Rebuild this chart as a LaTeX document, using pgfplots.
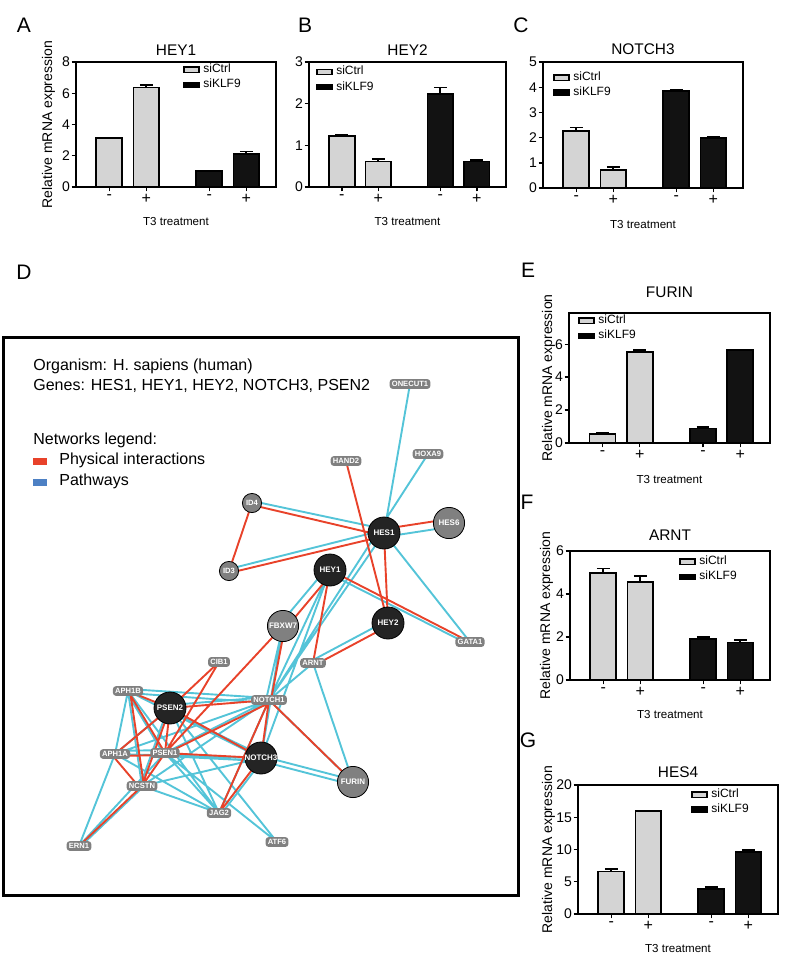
\documentclass[border=0pt]{standalone}
\usepackage{pgfplots}
\pgfplotsset{compat=1.18}
\usepackage{fontspec}
\setmainfont{Liberation Sans}
\definecolor{ctrlgray}{RGB}{212,212,212}
\definecolor{nodegray}{RGB}{128,128,128}
\definecolor{nodeblack}{RGB}{36,36,36}
\definecolor{edgered}{RGB}{232,66,42}
\definecolor{edgecyan}{RGB}{84,196,216}
\definecolor{legblue}{RGB}{77,128,196}
\pgfplotsset{
  barax/.style={
    scale only axis, anchor=north west,
    xmin=-0.9, xmax=4.5, ymin=0,
    xtick={0,1,2.7,3.7},
    xticklabels={\mbox{-},\mbox{+},\mbox{-},\mbox{+}},
    ybar, bar width=0.7, bar shift=0pt,
    tick align=outside, tick pos=left, major tick length=2.2pt,
    every tick/.style={black, line width=0.7pt},
    axis line style={line width=0.8pt},
    tick label style={font=\fontsize{7}{8}\selectfont},
    yticklabel style={inner sep=0.6pt},
    xticklabel style={inner sep=1.2pt, font=\fontsize{8}{9}\selectfont},
    /pgf/number format/assume math mode=true,
    every axis title shift=0pt,
    xlabel={T3 treatment},
    xlabel style={font=\fontsize{5.8}{7}\selectfont, anchor=center},
    ylabel style={font=\fontsize{7}{8}\selectfont, anchor=center},
    title style={font=\fontsize{7.7}{9}\selectfont, anchor=base, inner sep=0pt},
    legend style={draw=none, fill=none, font=\fontsize{6}{7}\selectfont, anchor=north west, inner sep=0pt, row sep=0.3pt, column sep=1.2pt, nodes={inner sep=0.7pt}},
    legend cell align=left,
    error bars/y dir=plus, error bars/y explicit,
    error bars/error bar style={line width=0.9pt, black},
    error bars/error mark options={rotate=90, mark size=3.2pt, line width=0.9pt, black},
  },
  ctrl/.style={fill=ctrlgray, draw=black, line width=0.9pt,
    legend image code/.code={\draw[fill=ctrlgray, draw=black, line width=0.6pt] (0pt,-1.3pt) rectangle (7.5pt,1.3pt);}},
  klf/.style={fill=black!93, draw=black, line width=0.9pt,
    legend image code/.code={\draw[fill=black, draw=black, line width=0.6pt] (0pt,-1.3pt) rectangle (7.5pt,1.3pt);}},
}
\begin{document}
\begin{tikzpicture}
\path[use as bounding box] (0,0) rectangle (392.5pt,-479pt);
% Panel letters
\node[font=\fontsize{10.5}{12}\selectfont] at (12pt,-12.5pt) {A};
\node[font=\fontsize{10.5}{12}\selectfont] at (152.5pt,-12.5pt) {B};
\node[font=\fontsize{10.5}{12}\selectfont] at (260.5pt,-12.5pt) {C};
\node[font=\fontsize{10.5}{12}\selectfont] at (12pt,-136pt) {D};
\node[font=\fontsize{10.5}{12}\selectfont] at (264pt,-135pt) {E};
\node[font=\fontsize{10.5}{12}\selectfont] at (263.5pt,-251pt) {F};
\node[font=\fontsize{10.5}{12}\selectfont] at (264pt,-370pt) {G};

% A: HEY1
\begin{axis}[barax, at={(38pt,-31pt)}, width=100pt, height=62.5pt, ymax=8, ytick={0,2,4,6,8},
  title={HEY1}, title style={at={(axis description cs:0.5,1.052)}},
  ylabel={Relative mRNA expression}, ylabel style={at={(axis description cs:-0.1375,0.5)}},
  xlabel style={at={(axis description cs:0.5,-0.28)}},
  legend style={at={(0.535,1.0)}}]
\addplot[ctrl] coordinates {(0,3.12) +- (0,0.05) (1,6.37) +- (0,0.18)};
\addlegendentry{siCtrl}
\addplot[klf] coordinates {(2.7,1.0) +- (0,0.05) (3.7,2.12) +- (0,0.15)};
\addlegendentry{siKLF9}
\end{axis}

% B: HEY2
\begin{axis}[barax, at={(154.5pt,-31pt)}, width=98.5pt, height=62.5pt, ymax=3, ytick={0,1,2,3},
  title={HEY2}, title style={at={(axis description cs:0.5,1.052)}},
  xlabel style={at={(axis description cs:0.5,-0.28)}},
  legend style={at={(0.035,0.98)}}]
\addplot[ctrl] coordinates {(0,1.22) +- (0,0.02) (1,0.61) +- (0,0.07)};
\addlegendentry{siCtrl}
\addplot[klf] coordinates {(2.7,2.23) +- (0,0.16) (3.7,0.61) +- (0,0.04)};
\addlegendentry{siKLF9}
\end{axis}

% C: NOTCH3
\begin{axis}[barax, at={(271.5pt,-31pt)}, width=100pt, height=63pt, ymax=5, ytick={0,1,2,3,4,5},
  title={NOTCH3}, title style={at={(axis description cs:0.5,1.06)}},
  xlabel style={at={(axis description cs:0.5,-0.286)}},
  legend style={at={(0.05,0.937)}}]
\addplot[ctrl] coordinates {(0,2.27) +- (0,0.13) (1,0.73) +- (0,0.1)};
\addlegendentry{siCtrl}
\addplot[klf] coordinates {(2.7,3.84) +- (0,0.05) (3.7,1.98) +- (0,0.04)};
\addlegendentry{siKLF9}
\end{axis}

% E: FURIN
\begin{axis}[barax, at={(284.5pt,-156.5pt)}, width=100.5pt, height=65pt, ymax=7.9, ytick={0,2,4,6},
  title={FURIN}, title style={at={(axis description cs:0.5,1.119)}},
  ylabel={Relative mRNA expression}, ylabel style={at={(axis description cs:-0.102,0.5)}},
  xlabel style={at={(axis description cs:0.5,-0.277)}},
  legend style={at={(0.045,1.0)}}]
\addplot[ctrl] coordinates {(0,0.53) +- (0,0.1) (1,5.51) +- (0,0.16)};
\addlegendentry{siCtrl}
\addplot[klf] coordinates {(2.7,0.88) +- (0,0.1) (3.7,5.63) +- (0,0.04)};
\addlegendentry{siKLF9}
\end{axis}

% F: ARNT
\begin{axis}[barax, at={(285pt,-275.5pt)}, width=100pt, height=64.5pt, ymax=6, ytick={0,2,4,6},
  title={ARNT}, title style={at={(axis description cs:0.5,1.081)}},
  ylabel={Relative mRNA expression}, ylabel style={at={(axis description cs:-0.1175,0.5)}},
  xlabel style={at={(axis description cs:0.5,-0.264)}},
  legend style={at={(0.545,0.977)}}]
\addplot[ctrl] coordinates {(0,4.96) +- (0,0.23) (1,4.57) +- (0,0.27)};
\addlegendentry{siCtrl}
\addplot[klf] coordinates {(2.7,1.91) +- (0,0.09) (3.7,1.74) +- (0,0.12)};
\addlegendentry{siKLF9}
\end{axis}

% G: HES4
\begin{axis}[barax, at={(289pt,-392.5pt)}, width=100pt, height=64.5pt, ymax=20, ytick={0,5,10,15,20},
  title={HES4}, title style={at={(axis description cs:0.5,1.058)}},
  ylabel={Relative mRNA expression}, ylabel style={at={(axis description cs:-0.1475,0.5)}},
  xlabel style={at={(axis description cs:0.5,-0.264)}},
  legend style={at={(0.565,0.985)}}]
\addplot[ctrl] coordinates {(0,6.6) +- (0,0.4) (1,16.0) +- (0,0)};
\addlegendentry{siCtrl}
\addplot[klf] coordinates {(2.7,3.9) +- (0,0.3) (3.7,9.6) +- (0,0.35)};
\addlegendentry{siKLF9}
\end{axis}

% D: network
\begin{axis}[scale only axis, anchor=north west, at={(2pt,-168.5pt)}, width=257pt, height=279pt,
  xmin=4, xmax=518, ymin=337, ymax=895, y dir=reverse, xtick=\empty, ytick=\empty,
  axis line style={line width=1.5pt}, clip=false, unbounded coords=jump]
\addplot[edgecyan, line width=0.95pt] table {
x y
410 384
384 533
nan nan
428 454
269 700
nan nan
252 501
384 529
nan nan
229 569
384 530
nan nan
449 527
384 537
nan nan
384 533
470 642
nan nan
384 533
269 700
nan nan
327 568
280 624
nan nan
330 570
269 700
nan nan
330 570
261 758
nan nan
330 574
470 645
nan nan
388 620
313 660
nan nan
313 663
269 700
nan nan
313 663
353 782
nan nan
283 626
266 700
nan nan
283 626
261 758
nan nan
269 700
353 782
nan nan
261 756
353 780
nan nan
261 761
353 785
nan nan
128 689
269 698
nan nan
128 693
269 703
nan nan
128 691
261 758
nan nan
128 691
115 754
nan nan
128 691
142 786
nan nan
128 691
219 813
nan nan
126 691
163 753
nan nan
170 705
269 697
nan nan
170 711
261 755
nan nan
170 708
219 813
nan nan
170 708
277 842
nan nan
170 708
115 754
nan nan
168 708
140 786
nan nan
115 754
269 700
nan nan
115 754
261 758
nan nan
115 754
219 813
nan nan
115 754
79 846
nan nan
115 751
165 750
nan nan
165 753
269 700
nan nan
165 756
261 761
nan nan
165 753
219 813
nan nan
165 753
277 842
nan nan
142 786
269 700
nan nan
142 786
261 758
nan nan
142 786
219 813
nan nan
144 786
81 846
nan nan
219 813
269 700
nan nan
222 813
264 758
nan nan
79 846
165 753
};
\addplot[edgered, line width=0.95pt] table {
x y
346 461
388 623
nan nan
252 505
384 536
nan nan
252 503
229 571
nan nan
229 573
384 536
nan nan
384 529
449 519
nan nan
384 533
388 623
nan nan
330 570
470 642
nan nan
333 572
286 628
nan nan
330 570
313 663
nan nan
388 626
313 666
nan nan
283 626
165 753
nan nan
285 626
271 700
nan nan
219 662
170 708
nan nan
219 662
165 753
nan nan
170 708
269 700
nan nan
170 708
261 758
nan nan
170 708
128 691
nan nan
170 708
115 754
nan nan
170 708
142 786
nan nan
170 708
165 753
nan nan
128 691
165 753
nan nan
130 691
144 786
nan nan
115 756
165 755
nan nan
113 756
140 788
nan nan
167 753
271 702
nan nan
165 753
261 758
nan nan
165 753
142 786
nan nan
269 700
261 758
nan nan
269 700
353 782
nan nan
269 700
219 813
nan nan
261 758
219 813
nan nan
142 786
79 846
};
% small label nodes
\addplot[only marks, mark=*, mark options={draw=none, fill=none},
  point meta=explicit symbolic, nodes near coords, nodes near coords align=center,
  every node near coord/.style={fill=nodegray, rounded corners=1.5pt, text=white,
    font=\bfseries\fontsize{3.8}{4}\selectfont, inner sep=1.1pt}]
 table[meta=l] {
x y l
410 384 ONECUT1
428 454 HOXA9
346 461 HAND2
470 642 GATA1
219 662 CIB1
313 663 ARNT
128 691 APH1B
269 700 NOTCH1
115 754 APH1A
165 753 PSEN1
142 786 NCSTN
219 813 JAG2
277 842 ATF6
79 846 ERN1
};
% small circle nodes
\addplot[only marks, mark=*, mark size=4.8pt, mark options={draw=none, fill=nodegray},
  point meta=explicit symbolic, nodes near coords, nodes near coords align=center,
  every node near coord/.style={text=white, font=\bfseries\fontsize{3.8}{4}\selectfont, inner sep=0pt}]
 table[meta=l] {
x y l
252 503 ID4
229 571 ID3
};
% big gray nodes
\addplot[only marks, mark=*, mark size=7.8pt, mark options={draw=none, fill=nodegray},
  point meta=explicit symbolic, nodes near coords, nodes near coords align=center,
  every node near coord/.style={text=white, font=\bfseries\fontsize{4}{4.5}\selectfont, inner sep=0pt}]
 table[meta=l] {
x y l
449 523 HES6
283 626 FBXW7
353 782 FURIN
};
% big black nodes
\addplot[only marks, mark=*, mark size=8pt, mark options={draw=none, fill=nodeblack},
  point meta=explicit symbolic, nodes near coords, nodes near coords align=center,
  every node near coord/.style={text=white, font=\bfseries\fontsize{4}{4.5}\selectfont, inner sep=0pt}]
 table[meta=l] {
x y l
384 533 HES1
330 570 HEY1
388 623 HEY2
170 708 PSEN2
261 758 NOTCH3
};
\end{axis}
% network texts
\node[anchor=west, font=\fontsize{8}{9}\selectfont, inner sep=0pt] at (16.5pt,-183pt) {Organism: H. sapiens (human)};
\node[anchor=west, font=\fontsize{8}{9}\selectfont, inner sep=0pt] at (16.5pt,-193pt) {Genes: HES1, HEY1, HEY2, NOTCH3, PSEN2};
\node[anchor=west, font=\fontsize{8}{9}\selectfont, inner sep=0pt] at (16.5pt,-220pt) {Networks legend:};
\node[anchor=west, font=\fontsize{8}{9}\selectfont, inner sep=0pt] at (29.5pt,-230pt) {Physical interactions};
\node[anchor=west, font=\fontsize{8}{9}\selectfont, inner sep=0pt] at (29.5pt,-240.5pt) {Pathways};
\fill[edgered] (16.5pt,-228.8pt) rectangle (23.5pt,-232.3pt);
\fill[legblue] (16.5pt,-239.3pt) rectangle (23.5pt,-242.8pt);
\end{tikzpicture}
\end{document}
